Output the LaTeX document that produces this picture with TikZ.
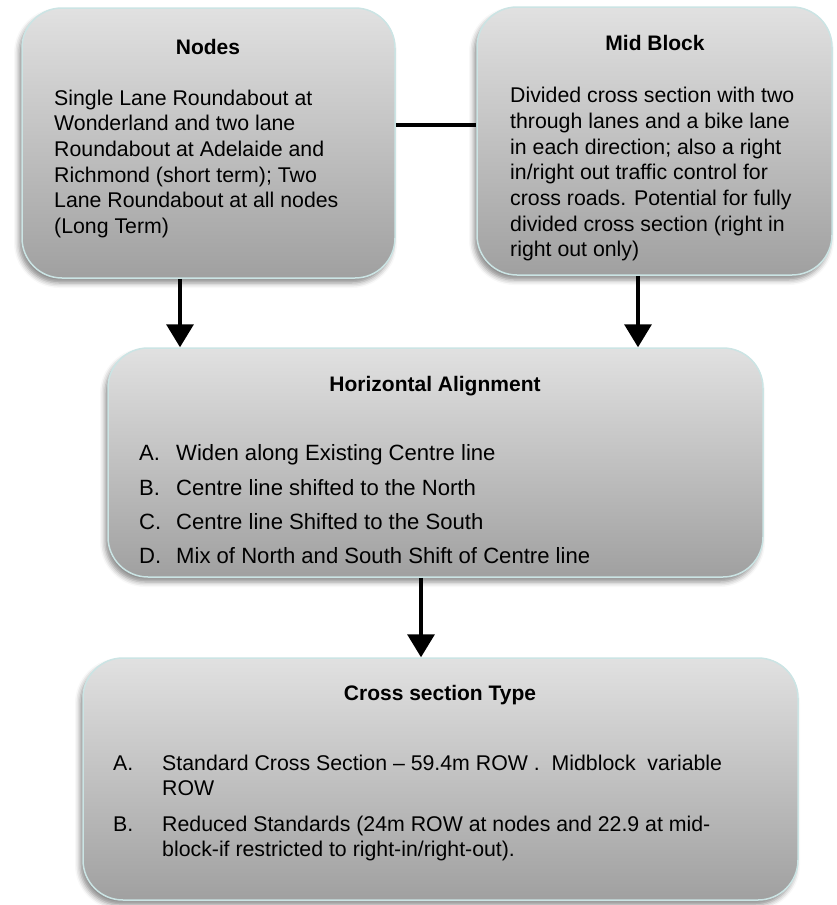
\documentclass[tikz,border=0pt]{standalone}
\usepackage{fontspec}
\setmainfont{Liberation Sans}
\usetikzlibrary{shadows.blur,arrows.meta,calc}
\definecolor{boxtop}{HTML}{E1E1E1}
\definecolor{boxbot}{HTML}{A0A0A0}
\definecolor{boxline}{HTML}{CBE4E4}
\begin{document}
\begin{tikzpicture}[x=1pt,y=-1pt,
  box/.style={draw=boxline, line width=1.5pt, rounded corners=40pt,
    top color=boxtop, bottom color=boxbot, inner sep=0pt,
    blur shadow={shadow xshift=-3pt, shadow yshift=-5pt, shadow blur radius=5pt, shadow opacity=45}},
  title/.style={anchor=base, inner sep=0pt, font=\bfseries\fontsize{21}{25}\selectfont},
  body/.style={anchor=north west, inner sep=0pt, align=left, font=\fontsize{21.3}{25.7}\selectfont},
  conn/.style={line width=3.5pt, black},
  arr/.style={conn, -{Triangle[width=27pt,length=23pt]}}]
\useasboundingbox (0,0) rectangle (836,905);

% boxes
\node[box, minimum width=373pt, minimum height=270pt] (nodes) at (208.5,143) {};
\node[box, minimum width=355pt, minimum height=268pt] (mid) at (654.5,141) {};
\node[box, minimum width=655pt, minimum height=229pt] (horiz) at (435.5,462.5) {};
\node[box, minimum width=715pt, minimum height=242pt] (cross) at (440.5,779) {};

% titles
\node[title] (tnodes) at (208,54.5) {Nodes};
\node[title] (tmid) at (655,50.5) {Mid Block};
\node[title] (thoriz) at (435,391) {Horizontal Alignment};
\node[title] (tcross) at (440,700.5) {Cross section Type};

% body texts
\node[body] (bnodes) at (54,89.5) {Single Lane Roundabout at\\Wonderland and two lane\\Roundabout at Adelaide and\\Richmond (short term); Two\\Lane Roundabout at all nodes\\(Long Term)};
\node[body] (bmid) at (510,87) {Divided cross section with two\\through lanes and a bike lane\\in each direction; also a right\\in/right out traffic control for\\cross roads. Potential for fully\\divided cross section (right in\\right out only)};
\node[body, font=\fontsize{22.1}{34.3}\selectfont] (bhoriz) at (139,444.5) {\makebox[37pt][l]{A.}Widen along Existing Centre line\\
\makebox[37pt][l]{B.}Centre line shifted to the North\\
\makebox[37pt][l]{C.}Centre line Shifted to the South\\
\makebox[37pt][l]{D.}Mix of North and South Shift of Centre line};
\node[body, font=\fontsize{21.3}{25.3}\selectfont] (bcross) at (113,755) {\makebox[49pt][l]{A.}Standard Cross Section -- 59.4m ROW .\ \ Midblock\ \ variable\\
\hspace*{49pt}ROW\\[10pt]
\makebox[49pt][l]{B.}Reduced Standards (24m ROW at nodes and 22.9 at mid-\\
\hspace*{49pt}block-if restricted to right-in/right-out).};

% connectors
\coordinate (h1) at ([yshift=18pt]nodes.east);
\draw[conn] (h1) -- (h1 -| mid.west);
\coordinate (a1) at ([xshift=-28.5pt]nodes.south);
\draw[arr] (a1) -- (a1 |- horiz.north);
\coordinate (a2) at ([xshift=-16.5pt]mid.south);
\draw[arr] (a2) -- (a2 |- horiz.north);
\coordinate (a3) at ([xshift=-14.5pt]horiz.south);
\draw[arr] (a3) -- (a3 |- cross.north);
\end{tikzpicture}
\end{document}
